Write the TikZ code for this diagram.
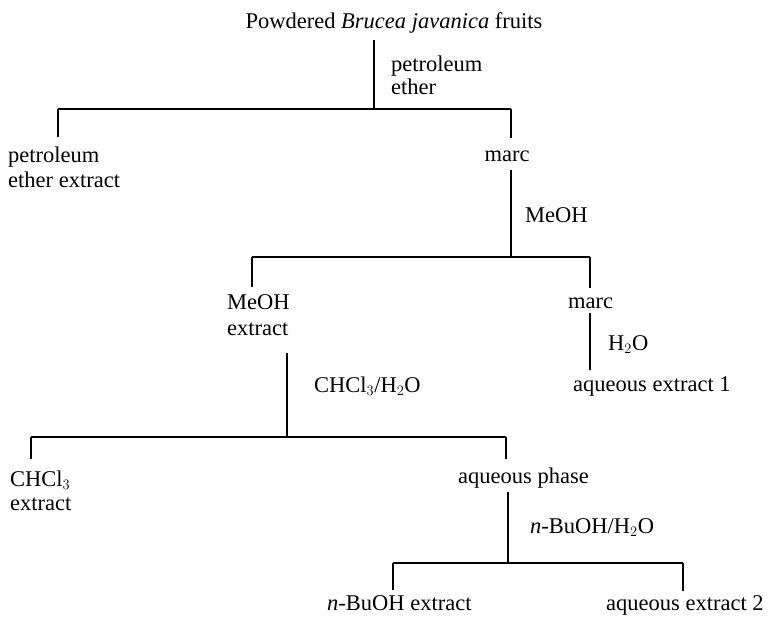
\documentclass[tikz,border=0pt]{standalone}
\usepackage{fontspec}
\setmainfont{Liberation Serif}
\begin{document}
\begin{tikzpicture}[x=1pt,y=-1pt,
  lbl/.style={inner sep=0pt,anchor=base west,font=\fontsize{22.5}{26}\selectfont},
  lblc/.style={inner sep=0pt,anchor=base,font=\fontsize{22.5}{26}\selectfont},
  hl/.style={line width=1.8pt},
  vl/.style={line width=1.3pt}]
\useasboundingbox (0,0) rectangle (768,616);
% texts
\node[lblc] (title) at (394,28) {Powdered \textit{Brucea javanica} fruits};
\node[lbl] (pe1) at (391,71) {petroleum};
\node[lbl] (pe2) at (391,94) {ether};
\node[lbl] (pex1) at (8,162) {petroleum};
\node[lbl] (pex2) at (8,187) {ether extract};
\node[lblc] (marc1) at (507,161) {marc};
\node[lbl] (meoh) at (525,222) {MeOH};
\node[lbl] (mex1) at (227,309) {MeOH};
\node[lbl] (mex2) at (227,335) {extract};
\node[lbl] (marc2) at (568,308) {marc};
\node[lbl] (h2o) at (608,350) {H$_2$O};
\node[lbl] (aq1) at (573,391) {aqueous extract 1};
\node[lbl] (chw) at (314,392) {CHCl$_3$/H$_2$O};
\node[lbl] (ch1) at (10,486) {CHCl$_3$};
\node[lbl] (ch2) at (10,510) {extract};
\node[lbl] (aqp) at (458,483) {aqueous phase};
\node[lbl] (buw) at (530,533) {\textit{n}-BuOH/H$_2$O};
\node[lbl] (bux) at (327,610) {\textit{n}-BuOH extract};
\node[lbl] (aq2) at (606,610) {aqueous extract 2};
% junctions
\coordinate (a0) at (374,40);
\coordinate (a1) at (374,109);
\coordinate (aL) at (58,109);
\coordinate (aR) at (511,109);
\coordinate (aLd) at (58,137);
\coordinate (aRd) at (511,138);
\coordinate (b0) at (511,170);
\coordinate (b1) at (511,257);
\coordinate (bL) at (252,257);
\coordinate (bR) at (590,257);
\coordinate (bLd) at (252,287);
\coordinate (bRd) at (590,288);
\coordinate (c0) at (590,313);
\coordinate (c1) at (590,370);
\coordinate (d0) at (287,353);
\coordinate (d1) at (287,437);
\coordinate (dL) at (31,437);
\coordinate (dR) at (506,437);
\coordinate (dLd) at (31,459);
\coordinate (dRd) at (506,459);
\coordinate (e0) at (508,492);
\coordinate (e1) at (508,563);
\coordinate (eL) at (393,563);
\coordinate (eR) at (683,563);
\coordinate (eLd) at (393,590);
\coordinate (eRd) at (683,591);
% lines
\draw[vl] (a0) -- (a1);
\draw[hl] (aL) -- (aR);
\draw[vl] (aL) -- (aLd);
\draw[vl] (aR) -- (aRd);
\draw[vl] (b0) -- (b1);
\draw[hl] (bL) -- (bR);
\draw[vl] (bL) -- (bLd);
\draw[vl] (bR) -- (bRd);
\draw[vl] (c0) -- (c1);
\draw[vl] (d0) -- (d1);
\draw[hl] (dL) -- (dR);
\draw[vl] (dL) -- (dLd);
\draw[vl] (dR) -- (dRd);
\draw[vl] (e0) -- (e1);
\draw[hl] (eL) -- (eR);
\draw[vl] (eL) -- (eLd);
\draw[vl] (eR) -- (eRd);
\end{tikzpicture}
\end{document}
